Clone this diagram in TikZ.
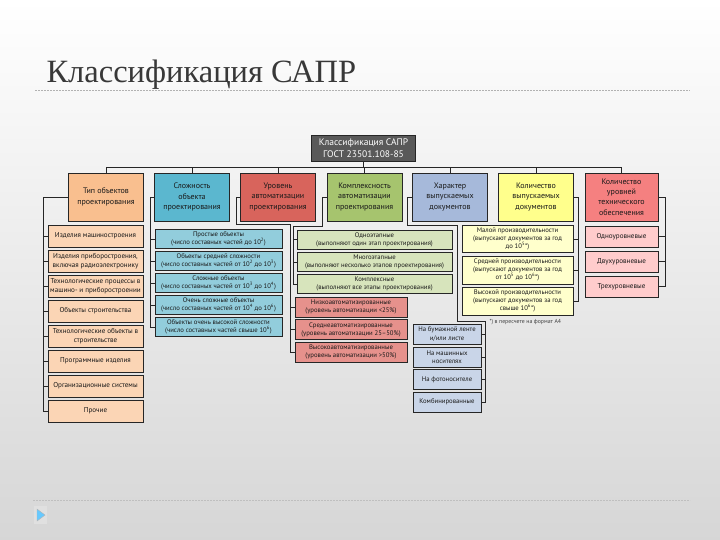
\documentclass[tikz,border=0pt]{standalone}
\usepackage{fontspec}
\setmainfont{PT Sans}
\newfontfamily\titlefont{Liberation Serif}
\usepackage{xcolor}
\usetikzlibrary{positioning}

\definecolor{rootgray}{HTML}{595959}
\definecolor{orangeH}{HTML}{F9BF8F}
\definecolor{orangeI}{HTML}{FBD5B5}
\definecolor{tealH}{HTML}{5BB7CF}
\definecolor{tealI}{HTML}{92CDDC}
\definecolor{redH}{HTML}{D8645C}
\definecolor{redI}{HTML}{E6918C}
\definecolor{greenH}{HTML}{A6C46E}
\definecolor{greenI}{HTML}{D7E4BC}
\definecolor{blueH}{HTML}{A6B9DA}
\definecolor{blueI}{HTML}{C9D5E8}
\definecolor{yellowH}{HTML}{FFFF8C}
\definecolor{yellowI}{HTML}{FFFFCC}
\definecolor{pinkH}{HTML}{F58080}
\definecolor{pinkI}{HTML}{FFCCCC}

\tikzset{
  box/.style={draw=black!85, line width=0.9pt, align=center, inner sep=1pt, text=black!90},
  head/.style={box, minimum width=75pt, minimum height=48pt, font=\fontsize{8}{10.3}\selectfont},
  item/.style={box, font=\fontsize{6.7}{8.2}\selectfont},
  conn/.style={draw=black!85, line width=0.8pt}
}

\begin{document}
\begin{tikzpicture}[x=1pt, y=-1pt]
\shade[top color=white, bottom color=black!16] (0,0) rectangle (720,540);
\useasboundingbox (0,0) rectangle (720,540);

\node[anchor=base west, font=\titlefont\fontsize{32.5}{36}\selectfont, text=black!78] (title) at (43,83) {Классификация САПР};
\draw[black!30, line width=0.8pt, dash pattern=on 2pt off 1pt] (35,90) -- (690,90);

\node[box, fill=rootgray, text=white, minimum width=104pt, minimum height=26pt, font=\fontsize{9.5}{12}\selectfont] (root) at (363.5,148) {Классификация САПР\\ГОСТ 23501.108-85};

% headers
\node[head, fill=orangeH] (h1) at (106,197) {Тип объектов\\проектирования};
\node[head, fill=tealH] (h2) at (192,197) {Сложность\\объекта\\проектирования};
\node[head, fill=redH] (h3) at (278,197) {Уровень\\автоматизации\\проектирования};
\node[head, fill=greenH] (h4) at (364.5,197) {Комплексность\\автоматизации\\проектирования};
\node[head, fill=blueH] (h5) at (450,197) {Характер\\выпускаемых\\документов};
\node[head, fill=yellowH] (h6) at (536,197) {Количество\\выпускаемых\\документов};
\node[head, fill=pinkH, minimum width=73pt] (h7) at (621.5,197) {Количество\\уровней\\технического\\обеспечения};

\coordinate (bus) at (363.5,167);
\draw[conn] (root.south) -- (root.south |- bus);
\draw[conn] (h1.north) -- (h1.north |- bus) -- (h7.north |- bus) -- (h7.north);
\draw[conn] (h2.north) -- (h2.north |- bus) (h3.north) -- (h3.north |- bus) (h4.north) -- (h4.north |- bus)
  (h5.north) -- (h5.north |- bus) (h6.north) -- (h6.north |- bus);

% type of objects
\node[item, fill=orangeI, minimum width=95pt, minimum height=22pt, font=\fontsize{7.1}{8.7}\selectfont] (a1) at (95.5,236) {Изделия машиностроения};
\node[item, fill=orangeI, minimum width=95pt, minimum height=22pt, font=\fontsize{7.1}{8.7}\selectfont] (a2) at (95.5,261) {Изделия приборостроения,\\включая радиоэлектронику};
\node[item, fill=orangeI, minimum width=95pt, minimum height=22pt, font=\fontsize{7.1}{8.7}\selectfont] (a3) at (95.5,286) {Технологические процессы в\\машино- и приборостроении};
\node[item, fill=orangeI, minimum width=95pt, minimum height=22pt, font=\fontsize{7.1}{8.7}\selectfont] (a4) at (95.5,311) {Объекты строительства};
\node[item, fill=orangeI, minimum width=95pt, minimum height=22pt, font=\fontsize{7.1}{8.7}\selectfont] (a5) at (95.5,336) {Технологические объекты в\\строительстве};
\node[item, fill=orangeI, minimum width=95pt, minimum height=22pt, font=\fontsize{7.1}{8.7}\selectfont] (a6) at (95.5,361) {Программные изделия};
\node[item, fill=orangeI, minimum width=95pt, minimum height=22pt, font=\fontsize{7.1}{8.7}\selectfont] (a7) at (95.5,386) {Организационные системы};
\node[item, fill=orangeI, minimum width=95pt, minimum height=22pt, font=\fontsize{7.1}{8.7}\selectfont] (a8) at (95.5,411) {Прочие};

\coordinate (r1) at (43,0);
\draw[conn] (h1.west) -| (r1 |- a8.west) -- (a8.west);
\draw[conn] (a1.west) -- (a1.west -| r1) (a2.west) -- (a2.west -| r1) (a3.west) -- (a3.west -| r1)
  (a4.west) -- (a4.west -| r1) (a5.west) -- (a5.west -| r1) (a6.west) -- (a6.west -| r1) (a7.west) -- (a7.west -| r1);

% complexity
\node[item, fill=tealI, minimum width=127pt, minimum height=19pt] (b1) at (218.5,239) {Простые объекты\\(число составных частей до 10\textsuperscript{2})};
\node[item, fill=tealI, minimum width=127pt, minimum height=19pt] (b2) at (218.5,261) {Объекты средней сложности\\(число составных частей от 10\textsuperscript{2} до 10\textsuperscript{3})};
\node[item, fill=tealI, minimum width=127pt, minimum height=19pt] (b3) at (218.5,283) {Сложные объекты\\(число составных частей от 10\textsuperscript{3} до 10\textsuperscript{4})};
\node[item, fill=tealI, minimum width=127pt, minimum height=19pt] (b4) at (218.5,305) {Очень сложные объекты\\(число составных частей от 10\textsuperscript{4} до 10\textsuperscript{6})};
\node[item, fill=tealI, minimum width=127pt, minimum height=19pt] (b5) at (218.5,327) {Объекты очень высокой сложности\\(число составных частей свыше 10\textsuperscript{6})};

\coordinate (r2) at (150,0);
\draw[conn] (h2.west) -| (r2 |- b5.west) -- (b5.west);
\draw[conn] (b1.west) -- (b1.west -| r2) (b2.west) -- (b2.west -| r2) (b3.west) -- (b3.west -| r2) (b4.west) -- (b4.west -| r2);

% level of automation
\node[item, fill=redI, minimum width=112pt, minimum height=20pt] (c1) at (351,307) {Низкоавтоматизированные\\(уровень автоматизации <25\%)};
\node[item, fill=redI, minimum width=112pt, minimum height=20pt] (c2) at (351,329.5) {Среднеавтоматизированные\\(уровень автоматизации 25--50\%)};
\node[item, fill=redI, minimum width=112pt, minimum height=20pt] (c3) at (351,352) {Высокоавтоматизированные\\(уровень автоматизации >50\%)};

\coordinate (k3) at (236,224);
\coordinate (r3) at (290,224);
\draw[conn] (h3.west) -| (k3) -- (r3) |- (c3.west);
\draw[conn] (c1.west) -- (c1.west -| r3) (c2.west) -- (c2.west -| r3);

% complexity of automation
\node[item, fill=greenI, minimum width=155pt, minimum height=19pt] (d1) at (374.5,239.5) {Одноэтапные\\(выполняют один этап проектирования)};
\node[item, fill=greenI, minimum width=155pt, minimum height=19pt] (d2) at (374.5,262) {Многоэтапные\\(выполняют несколько этапов проектирования)};
\node[item, fill=greenI, minimum width=155pt, minimum height=19pt] (d3) at (374.5,284) {Комплексные\\(выполняют все этапы проектирования)};

\coordinate (k4) at (322,226.5);
\coordinate (r4) at (293,226.5);
\draw[conn] (h4.west) -| (k4) -- (r4) |- (d3.west);
\draw[conn] (d1.west) -- (d1.west -| r4) (d2.west) -- (d2.west -| r4);

% kind of documents
\node[item, fill=blueI, minimum width=68pt, minimum height=20pt] (e1) at (447,334) {На бумажной ленте\\и/или листе};
\node[item, fill=blueI, minimum width=68pt, minimum height=20pt] (e2) at (447,357) {На машинных\\носителях};
\node[item, fill=blueI, minimum width=68pt, minimum height=20pt] (e3) at (447,379.5) {На фотоносителе};
\node[item, fill=blueI, minimum width=68pt, minimum height=20pt] (e4) at (447,402) {Комбинированные};

\coordinate (k5) at (407,225);
\coordinate (m5) at (457,225);
\coordinate (n5) at (457,321.5);
\coordinate (r5) at (485,321.5);
\draw[conn] (h5.west) -| (k5) -- (m5) -- (n5) -- (r5) |- (e4.east);
\draw[conn] (e1.east) -- (e1.east -| r5) (e2.east) -- (e2.east -| r5) (e3.east) -- (e3.east -| r5);

% number of documents
\node[item, fill=yellowI, minimum width=111pt, minimum height=27pt] (f1) at (517.5,239) {Малой производительности\\(выпускают документов за год\\до 10\textsuperscript{5}*)};
\node[item, fill=yellowI, minimum width=111pt, minimum height=28pt] (f2) at (517.5,270) {Средней производительности\\(выпускают документов за год\\от 10\textsuperscript{5} до 10\textsuperscript{6}*)};
\node[item, fill=yellowI, minimum width=111pt, minimum height=28pt] (f3) at (517.5,301) {Высокой производительности\\(выпускают документов за год\\свыше 10\textsuperscript{6}*)};
\node[anchor=west, font=\fontsize{5.8}{6.8}\selectfont, text=black!75] (note) at (486,322) {*) в пересчете на формат А4};

\coordinate (r6) at (578,0);
\draw[conn] (h6.east) -| (r6 |- f3.east) -- (f3.east);
\draw[conn] (f1.east) -- (f1.east -| r6) (f2.east) -- (f2.east -| r6);

% levels of support
\node[item, fill=pinkI, minimum width=73pt, minimum height=21pt, font=\fontsize{7.1}{8.7}\selectfont] (g1) at (621.5,236.5) {Одноуровневые};
\node[item, fill=pinkI, minimum width=73pt, minimum height=21pt, font=\fontsize{7.1}{8.7}\selectfont] (g2) at (621.5,261.5) {Двухуровневые};
\node[item, fill=pinkI, minimum width=73pt, minimum height=21pt, font=\fontsize{7.1}{8.7}\selectfont] (g3) at (621.5,286.5) {Трехуровневые};

\coordinate (r7) at (665,0);
\draw[conn] (h7.east) -| (r7 |- g3.east) -- (g3.east);
\draw[conn] (g1.east) -- (g1.east -| r7) (g2.east) -- (g2.east -| r7);

% footer
\draw[black!25, line width=0.8pt, dash pattern=on 2pt off 1pt] (33,500) -- (690,500);
\fill[black!12] (34,506) rectangle (47,524);
\fill[blue!35!cyan!60!white, draw=black!30] (37,509) -- (45,515) -- (37,521) -- cycle;

\end{tikzpicture}
\end{document}
